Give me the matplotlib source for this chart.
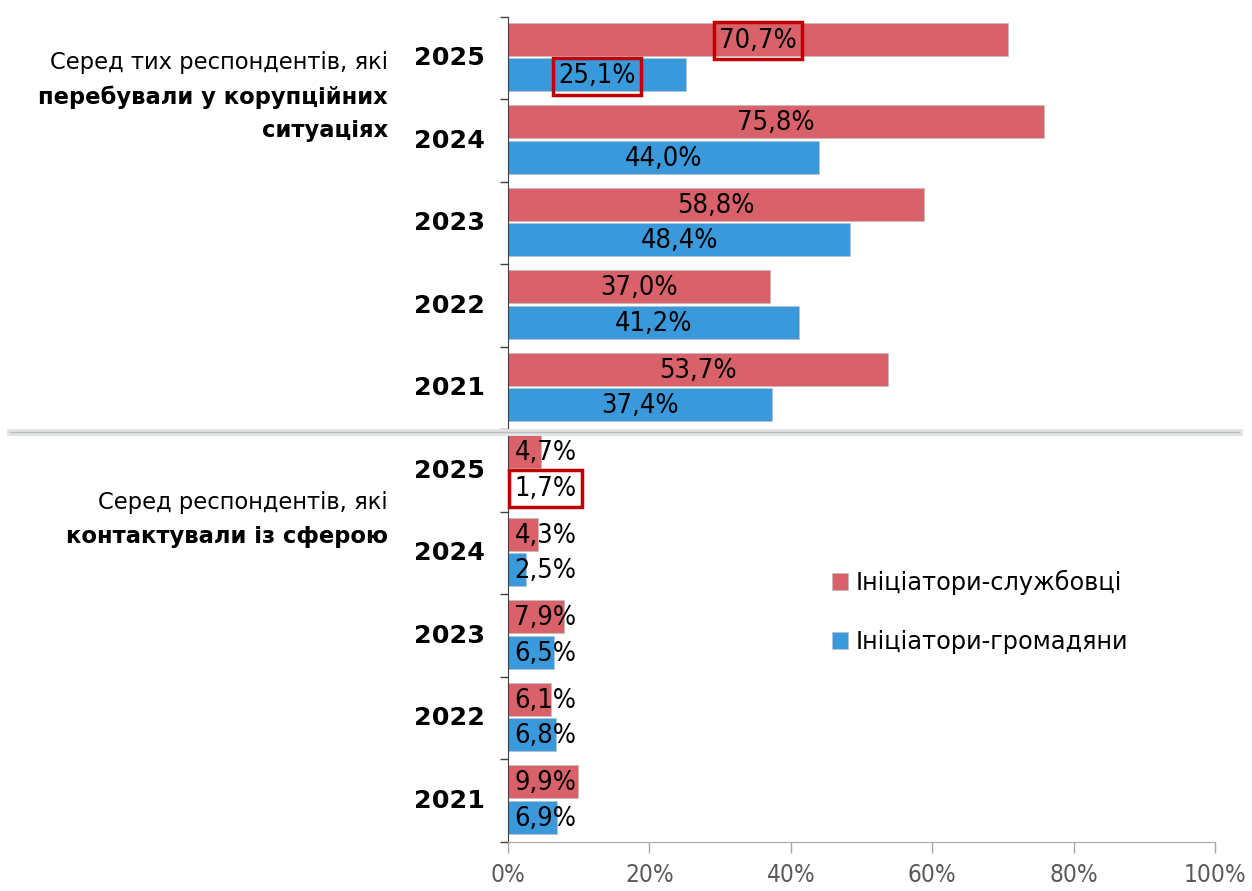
import matplotlib.pyplot as plt
from matplotlib.patches import Patch
from matplotlib.lines import Line2D

years = ["2025", "2024", "2023", "2022", "2021"]
# corruption situations block
sit_officials = [70.7, 75.8, 58.8, 37.0, 53.7]
sit_citizens = [25.1, 44.0, 48.4, 41.2, 37.4]
# contacts with the sphere block
cont_officials = [4.7, 4.3, 7.9, 6.1, 9.9]
cont_citizens = [1.7, 2.5, 6.5, 6.8, 6.9]

legend_labels = ["Ініціатори-службовці", "Ініціатори-громадяни"]
xticks = [0, 20, 40, 60, 80, 100]

RED = "#D9626A"
BLUE = "#3A99DA"
BOX = "#C00000"

plt.rcParams['font.family'] = ['DejaVu Sans']

fig = plt.figure(figsize=(12.52, 8.91), dpi=100)
ax = fig.add_axes([0.4058, 0.055, 0.5647, 0.926])

officials = sit_officials + cont_officials
citizens = sit_citizens + cont_citizens
labels = years + years
pos = list(range(len(labels)))

h = 0.40
y_red = [p + 0.27 for p in pos]
y_blue = [p + 0.70 for p in pos]
ax.barh(y_red, officials, height=h, color=RED, edgecolor="#bfbfbf", linewidth=0.5)
ax.barh(y_blue, citizens, height=h, color=BLUE, edgecolor="#bfbfbf", linewidth=0.5)

boxed = {(0, 'r'), (0, 'b'), (5, 'b')}
for i in pos:
    for val, yy, key in ((officials[i], y_red[i], 'r'), (citizens[i], y_blue[i], 'b')):
        txt = f"{val:.1f}%".replace(".", ",")
        bbox = None
        if (i, key) in boxed:
            fc = 'white' if i >= 5 else 'none'
            bbox = dict(boxstyle="square,pad=0.2", fc=fc, ec=BOX, lw=2.5)
        if i < 5:
            ax.text(val / 2, yy + 0.02, txt, ha='center', va='center',
                    fontsize=19.5, fontstretch='condensed', bbox=bbox)
        else:
            ax.text(0.9, yy + 0.02, txt, ha='left', va='center',
                    fontsize=19.5, fontstretch='condensed', bbox=bbox)

ax.set_ylim(10, 0)
ax.set_xlim(0, 100)
ax.set_yticks(range(0, 11))
ax.set_yticklabels([])
ax.tick_params(axis='y', length=6, width=1, color='#404040', direction='out')
ax.set_xticks(xticks)
ax.set_xticklabels([f"{t}%" for t in xticks], fontsize=17.5, color='#595959',
                   fontstretch='condensed')
ax.tick_params(axis='x', length=8, width=1, color='#a6a6a6', direction='out', pad=7)

for s in ('top', 'right'):
    ax.spines[s].set_visible(False)
ax.spines['left'].set_color('#404040')
ax.spines['bottom'].set_color('#a6a6a6')

# year labels to the left of the axis
for i, y in enumerate(labels):
    ax.text(-3.3, i + 0.50, y, ha='right', va='center', fontsize=18.3,
            fontweight='bold', clip_on=False)

# group captions
fig.text(388 / 1252, 1 - 63 / 891, "Серед тих респондентів, які", ha='right',
         va='center', fontsize=16.3)
fig.text(388 / 1252, 1 - 97 / 891, "перебували у корупційних", ha='right',
         va='center', fontsize=16.3, fontweight='bold')
fig.text(388 / 1252, 1 - 130 / 891, "ситуаціях", ha='right',
         va='center', fontsize=16.3, fontweight='bold')
fig.text(388 / 1252, 1 - 503 / 891, "Серед респондентів, які", ha='right',
         va='center', fontsize=16.3)
fig.text(388 / 1252, 1 - 537 / 891, "контактували із сферою", ha='right',
         va='center', fontsize=16.3, fontweight='bold')

# separator between the two blocks
ysep = 1 - 432 / 891
fig.add_artist(Line2D([0.008, 0.99], [ysep, ysep], transform=fig.transFigure,
                      color='#e2e5e5', lw=5))
fig.add_artist(Line2D([0.008, 0.99], [ysep, ysep], transform=fig.transFigure,
                      color='#b8bcbc', lw=1))

handles = [Patch(facecolor=RED, edgecolor='#bfbfbf', lw=0.5),
           Patch(facecolor=BLUE, edgecolor='#bfbfbf', lw=0.5)]
fig.legend(handles, legend_labels, loc='upper left',
           bbox_to_anchor=(810 / 1252, 1 - 548 / 891), frameon=False,
           fontsize=17.3, handlelength=0.7, handleheight=0.7,
           handletextpad=0.3, labelspacing=1.45)

fig.savefig("out.png", dpi=100)
